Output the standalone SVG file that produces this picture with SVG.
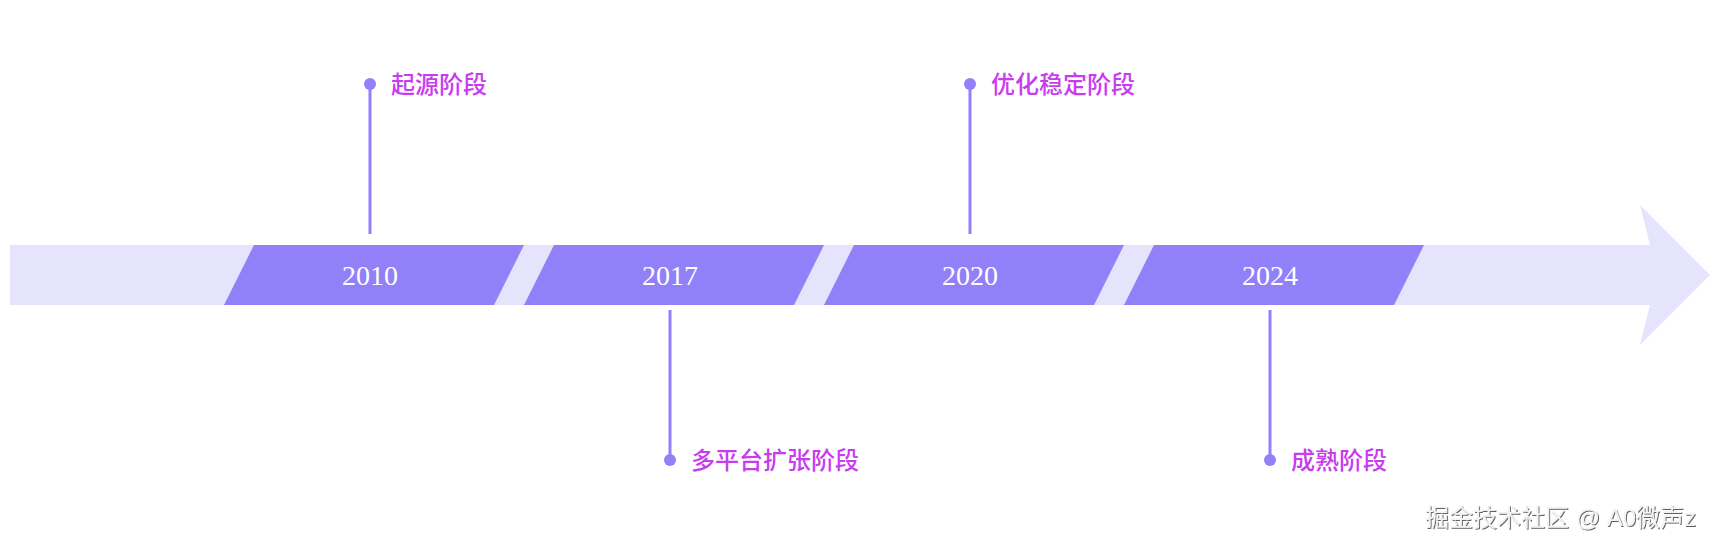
<svg xmlns="http://www.w3.org/2000/svg" width="1720" height="550" viewBox="0 0 1720 550">
  <defs>
    <style>
      .band { fill: #e6e3fc; }
      .seg { fill: #9180f8; }
      .year { font-family: "Liberation Serif", "DejaVu Serif", serif; font-size: 28px; fill: #ffffff; text-anchor: middle; }
      .label { font-family: "Noto Sans CJK SC", sans-serif; font-size: 24px; font-weight: 500; fill: #c83cf0; }
      .stem { stroke: #9180f8; stroke-width: 3; fill: none; }
      .dot { fill: #9180f8; }
      .mark { font-family: "Liberation Sans", "Noto Sans CJK SC", sans-serif; font-size: 24px; fill: #f2f2f2; filter: url(#emboss); }
    </style>
    <filter id="emboss" x="-5%" y="-30%" width="110%" height="160%">
      <feDropShadow dx="1" dy="1" stdDeviation="0.7" flood-color="#444444" flood-opacity="0.85"/>
    </filter>
  </defs>
  <rect width="1720" height="550" fill="#ffffff"/>

  <g id="axis">
    <polygon class="band" points="10,245 1650,245 1640,205 1710,275 1640,345 1650,305 10,305"/>
  </g>

  <g id="node-2010">
    <polygon class="seg" points="254,245 524,245 494,305 224,305"/>
    <text class="year" x="370" y="285">2010</text>
  </g>
  <g id="node-2017">
    <polygon class="seg" points="554,245 824,245 794,305 524,305"/>
    <text class="year" x="670" y="285">2017</text>
  </g>
  <g id="node-2020">
    <polygon class="seg" points="854,245 1124,245 1094,305 824,305"/>
    <text class="year" x="970" y="285">2020</text>
  </g>
  <g id="node-2024">
    <polygon class="seg" points="1154,245 1424,245 1394,305 1124,305"/>
    <text class="year" x="1270" y="285">2024</text>
  </g>

  <g id="connectors">
    <line class="stem" x1="370" y1="84" x2="370" y2="234"/>
    <circle class="dot" cx="370" cy="84" r="6"/>
    <line class="stem" x1="670" y1="310" x2="670" y2="460"/>
    <circle class="dot" cx="670" cy="460" r="6"/>
    <line class="stem" x1="970" y1="84" x2="970" y2="234"/>
    <circle class="dot" cx="970" cy="84" r="6"/>
    <line class="stem" x1="1270" y1="310" x2="1270" y2="460"/>
    <circle class="dot" cx="1270" cy="460" r="6"/>
  </g>

  <g id="label-origin">
    <text class="label" x="391" y="93">起源阶段</text>
  </g>
  <g id="label-expansion">
    <text class="label" x="691" y="469">多平台扩张阶段</text>
  </g>
  <g id="label-stable">
    <text class="label" x="991" y="93">优化稳定阶段</text>
  </g>
  <g id="label-mature">
    <text class="label" x="1291" y="469">成熟阶段</text>
  </g>

  <g id="watermark">
    <text class="mark" x="1425" y="526">掘金技术社区 @ A0微声z</text>
  </g>
</svg>
